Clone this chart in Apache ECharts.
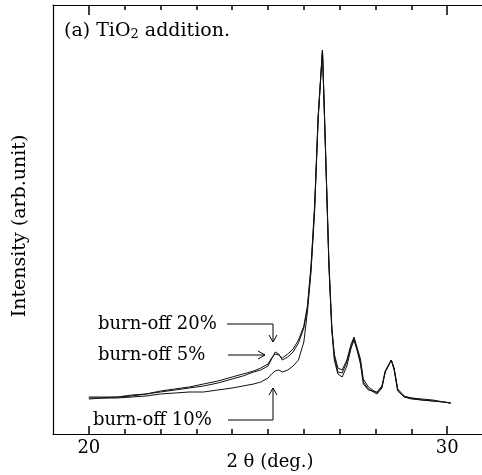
<!DOCTYPE html>
<html>
<head>
<meta charset="utf-8">
<script src="https://cdn.jsdelivr.net/npm/echarts@6/dist/echarts.min.js"></script>
<style>
html,body{margin:0;padding:0;background:#fff;}
#c{width:482px;height:475px;}
</style>
</head>
<body>
<div id="c"></div>
<script>
// 2θ (deg.) sample positions
var theta = [20.0, 20.4, 20.8, 21.2, 21.6, 22.0, 22.4, 22.8, 23.2, 23.6, 24.0, 24.3, 24.6, 24.8, 25.0, 25.1, 25.2, 25.3, 25.4, 25.55, 25.7, 25.85, 26.0, 26.1, 26.2, 26.3, 26.4, 26.52, 26.6, 26.7, 26.78, 26.85, 26.95, 27.07, 27.2, 27.32, 27.4, 27.5, 27.58, 27.66, 27.8, 28.04, 28.18, 28.27, 28.36, 28.44, 28.52, 28.62, 28.8, 29.0, 29.3, 29.6, 29.9, 30.1];
// Intensity (arb. unit)
var burnoff5 = [37, 37, 37, 39, 40, 42, 44, 46, 48, 51, 55, 58, 62, 64, 68, 75, 82, 80, 74, 77, 82, 91, 106, 126, 165, 225, 317, 384, 290, 170, 105, 80, 66, 64, 74, 90, 97, 85, 75, 55, 47, 41, 47, 62, 68, 74, 66, 45, 38, 36, 35, 34, 32, 31];
var burnoff20 = [35, 36, 37, 38, 40, 43, 45, 47, 50, 53, 57, 60, 63, 66, 70, 76, 80, 79, 76, 80, 85, 94, 108, 128, 168, 228, 318, 384, 292, 172, 108, 78, 62, 61, 72, 88, 95, 83, 72, 52, 45, 40, 46, 62, 68, 74, 65, 44, 37, 35, 34, 33, 32, 31];
var burnoff10 = [36, 36, 36, 37, 38, 40, 41, 42, 42, 44, 46, 48, 50, 52, 56, 60, 63, 64, 62, 64, 68, 74, 92, 122, 162, 222, 315, 384, 288, 168, 104, 74, 60, 57, 68, 86, 94, 82, 70, 50, 44, 42, 48, 63, 69, 74, 64, 43, 37, 36, 34, 33, 32, 31];
var xLabels = [20, 30];
var minorTickValues = [21, 22, 23, 24, 25, 26, 27, 28, 29];
var seriesNames = ['burn-off 5%', 'burn-off 20%', 'burn-off 10%'];

function pairs(v){ return theta.map(function(t,i){ return [t, v[i]]; }); }

var serif = 'DejaVu Serif';
var yMax = 429;
var chart = echarts.init(document.getElementById('c'), null, {renderer:'canvas'});
var lineStyle = {color:'#111', width:1};

// inward ticks on bottom and top frame edges, placed through the axis scales
var ticks = [];
minorTickValues.forEach(function(v){
  ticks.push([{coord:[v, 0]}, {coord:[v, 5]}]);
  ticks.push([{coord:[v, yMax]}, {coord:[v, yMax - 5]}]);
});
xLabels.forEach(function(v){
  ticks.push([{coord:[v, 0]}, {coord:[v, 8]}]);
  ticks.push([{coord:[v, yMax]}, {coord:[v, yMax - 10]}]);
});

chart.setOption({
  animation:false,
  backgroundColor:'#fff',
  grid:{left:53, top:5, width:430, height:429, containLabel:false, outerBoundsMode:'none'},
  xAxis:[
    {type:'value', position:'bottom', min:19, max:31, interval:1,
     axisLine:{show:true, onZero:false, lineStyle:{color:'#000', width:1.2}},
     axisTick:{show:false},
     axisLabel:{show:true, margin:5, color:'#000', fontFamily:serif, fontSize:18,
       formatter:function(v){ return xLabels.indexOf(v) >= 0 ? String(v) : ''; }},
     splitLine:{show:false}},
    {type:'value', position:'top', min:19, max:31, interval:1,
     axisLine:{show:true, onZero:false, lineStyle:{color:'#000', width:1.2}},
     axisTick:{show:false}, axisLabel:{show:false}, splitLine:{show:false}}
  ],
  yAxis:{type:'value', min:0, max:yMax,
    axisLine:{show:true, onZero:false, lineStyle:{color:'#000', width:1.2}},
    axisTick:{show:false}, axisLabel:{show:false}, splitLine:{show:false}},
  series:[
    {name:seriesNames[0], type:'line', xAxisIndex:0, data:pairs(burnoff5), showSymbol:false, lineStyle:lineStyle,
     markLine:{silent:true, symbol:['none','none'], label:{show:false}, lineStyle:{color:'#000', width:1.5, type:'solid'}, data:ticks}},
    {name:seriesNames[1], type:'line', xAxisIndex:0, data:pairs(burnoff20), showSymbol:false, lineStyle:lineStyle},
    {name:seriesNames[2], type:'line', xAxisIndex:0, data:pairs(burnoff10), showSymbol:false, lineStyle:lineStyle}
  ],
  graphic:[
    {type:'text', left:64, top:22, style:{
      text:'{a|(a) TiO}{s|2}{a| addition.}',
      rich:{a:{fontFamily:serif, fontSize:19, fill:'#000'}, s:{fontFamily:serif, fontSize:13, fill:'#000', verticalAlign:'bottom', padding:[7,0,0,0]}}}},
    {type:'text', x:20, y:226, rotation:Math.PI/2, style:{
      text:'Intensity (arb.unit)', fontFamily:serif, fontSize:19, fill:'#000', align:'center', verticalAlign:'middle'}},
    {type:'text', x:270, y:462, style:{
      text:'2 \u03b8 (deg.)', fontFamily:serif, fontSize:18, fill:'#000', align:'center', verticalAlign:'middle'}},
    {type:'text', x:98, y:324, style:{text:seriesNames[1], fontFamily:serif, fontSize:18, fill:'#000', verticalAlign:'middle'}},
    {type:'text', x:98, y:355, style:{text:seriesNames[0], fontFamily:serif, fontSize:18, fill:'#000', verticalAlign:'middle'}},
    {type:'text', x:93, y:420, style:{text:seriesNames[2], fontFamily:serif, fontSize:18, fill:'#000', verticalAlign:'middle'}},
    {type:'polyline', shape:{points:[[227,324],[273,324],[273,342]]}, style:{stroke:'#000', fill:null, lineWidth:1}},
    {type:'polyline', shape:{points:[[269,335],[273,342],[277,335]]}, style:{stroke:'#000', fill:null, lineWidth:1}},
    {type:'polyline', shape:{points:[[228,355],[265,355]]}, style:{stroke:'#000', fill:null, lineWidth:1}},
    {type:'polyline', shape:{points:[[258,351],[265,355],[258,359]]}, style:{stroke:'#000', fill:null, lineWidth:1}},
    {type:'polyline', shape:{points:[[228,420],[273,420],[273,388]]}, style:{stroke:'#000', fill:null, lineWidth:1}},
    {type:'polyline', shape:{points:[[269,395],[273,388],[277,395]]}, style:{stroke:'#000', fill:null, lineWidth:1}}
  ]
});
</script>
</body>
</html>
